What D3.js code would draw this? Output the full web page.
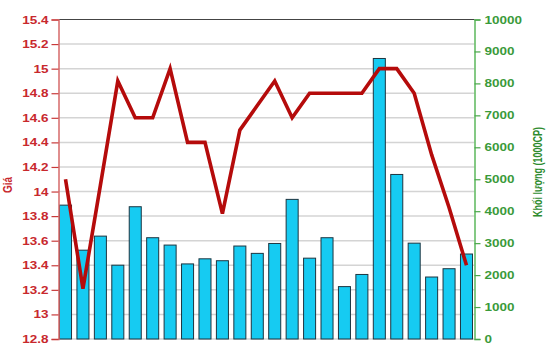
<!DOCTYPE html>
<html>
<head>
<meta charset="utf-8">
<script src="https://cdn.jsdelivr.net/npm/d3@7"></script>
<style>
  html, body { margin: 0; padding: 0; background: #fff; }
  svg { display: block; }
  text { font-family: "Liberation Sans", Arial, sans-serif; }
</style>
</head>
<body>
<svg id="chart" width="550" height="364"></svg>
<script>
const categories = ["1","2","3","4","5","6","7","8","9","10","11","12","13","14","15","16","17","18","19","20","21","22","23","24"];
const volume = [4190, 2780, 3220, 2310, 4140, 3170, 2940, 2350, 2510, 2450, 2910, 2680, 2990, 4370, 2530, 3170, 1640, 2020, 8780, 5150, 3000, 1940, 2200, 2660];
const price = [14.1, 13.21, 14.05, 14.9, 14.6, 14.6, 15.0, 14.4, 14.4, 13.82, 14.5, 14.7, 14.9, 14.6, 14.8, 14.8, 14.8, 14.8, 15.0, 15.0, 14.8, 14.3, 13.87, 13.4];
const priceTicks = [12.8, 13, 13.2, 13.4, 13.6, 13.8, 14, 14.2, 14.4, 14.6, 14.8, 15, 15.2, 15.4];
const volumeTicks = [0, 1000, 2000, 3000, 4000, 5000, 6000, 7000, 8000, 9000, 10000];
const leftTitle = "Giá";
const rightTitle = "Khối lượng (1000CP)";

const svg = d3.select("#chart");
const plotL = 58.5, plotR = 474.5, plotT = 19.5, plotB = 339;

const x = d3.scaleBand().domain(categories).range([59.5, 472.5]).paddingInner(0.31).paddingOuter(0);
const yP = d3.scaleLinear().domain([12.8, 15.4]).range([plotB, plotT]);
const yV = d3.scaleLinear().domain([0, 10000]).range([plotB, plotT]);

// gridlines
svg.append("g").selectAll("line").data(priceTicks).join("line")
  .attr("x1", plotL).attr("x2", plotR)
  .attr("y1", d => yP(d)).attr("y2", d => yP(d))
  .attr("stroke", d => d === 15.4 ? "#444" : "#d4d4d4")
  .attr("stroke-width", d => d === 15.4 ? 1.2 : 1.5);

// bars
svg.append("g").selectAll("rect").data(volume).join("rect")
  .attr("x", (d, i) => x(categories[i]))
  .attr("width", x.bandwidth())
  .attr("y", d => yV(d))
  .attr("height", d => plotB - yV(d))
  .attr("fill", "#16cbf2")
  .attr("stroke", "#1d3540")
  .attr("stroke-width", 1);

// price line
const line = d3.line()
  .x((d, i) => x(categories[i]) + x.bandwidth() / 2)
  .y(d => yP(d));
svg.append("path").datum(price)
  .attr("d", line)
  .attr("fill", "none")
  .attr("stroke", "#b50b0b")
  .attr("stroke-width", 3.6)
  .attr("stroke-linejoin", "miter");

// left axis
const axL = svg.append("g").attr("transform", `translate(${plotL},0)`)
  .call(d3.axisLeft(yP).tickValues(priceTicks).tickSize(7).tickFormat(d3.format("")));
axL.select(".domain").attr("stroke", "#d66a6a").attr("stroke-width", 1.5);
axL.selectAll(".tick line").attr("stroke", "#c83a3a").attr("stroke-width", 1.2);
axL.selectAll(".tick text")
  .attr("x", null).attr("dy", null)
  .attr("transform", "translate(-10,3.5) scale(1.35,1)")
  .attr("fill", "#c8282d").attr("font-size", 10).attr("font-weight", "bold")
  .attr("text-anchor", "end");

// right axis
const axR = svg.append("g").attr("transform", `translate(${plotR},0)`)
  .call(d3.axisRight(yV).tickValues(volumeTicks).tickSize(6).tickFormat(d3.format("d")));
axR.select(".domain").attr("stroke", "#5cb85c").attr("stroke-width", 1.5);
axR.selectAll(".tick line").attr("stroke", "#4aa64a").attr("stroke-width", 1.2);
axR.selectAll(".tick text")
  .attr("x", null).attr("dy", null)
  .attr("transform", "translate(10,3.5) scale(1.35,1)")
  .attr("fill", "#3a9a3a").attr("font-size", 10).attr("font-weight", "bold")
  .attr("text-anchor", "start");

// titles
svg.append("text")
  .attr("transform", "translate(12,185) rotate(-90) scale(1,1.3)")
  .attr("text-anchor", "middle")
  .attr("fill", "#c8282d").attr("font-size", 10).attr("font-weight", "bold")
  .text(leftTitle);
svg.append("text")
  .attr("transform", "translate(542,172) rotate(-90) scale(1,1.4)")
  .attr("text-anchor", "middle")
  .attr("fill", "#2e8b2e").attr("font-size", 9).attr("font-weight", "bold")
  .text(rightTitle);
</script>
</body>
</html>
